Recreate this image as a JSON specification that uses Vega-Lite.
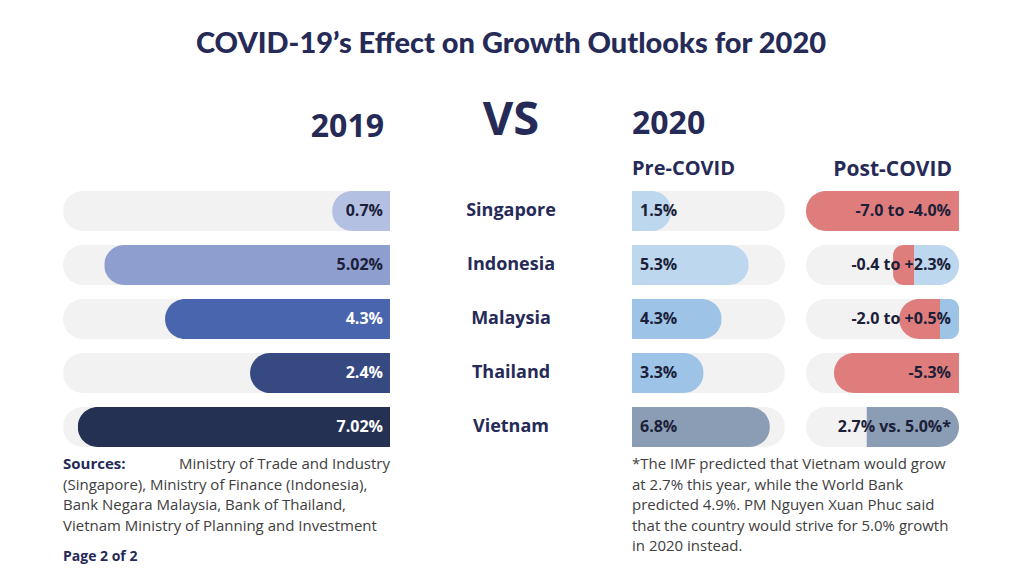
{
  "$schema": "https://vega.github.io/schema/vega-lite/v6.json",
  "background": "white",
  "padding": {"left": 63, "top": 30, "right": 5, "bottom": 5},
  "autosize": {"type": "pad"},
  "config": {
    "view": {"stroke": null},
    "font": "Open Sans",
    "title": {"color": "#262a57", "fontWeight": "bold", "font": "Open Sans"}
  },
  "title": {
    "text": "COVID-19’s Effect on Growth Outlooks for 2020",
    "font": "Lato",
    "fontSize": 29,
    "fontWeight": 900,
    "color": "#262a57",
    "anchor": "middle",
    "offset": 38
  },
  "datasets": {
    "growth": [
      {"country": "Singapore", "g2019": "0.7%", "fill2019": 17.7, "pre": "1.5%", "fillPre": 25.6, "post": "-7.0 to -4.0%"},
      {"country": "Indonesia", "g2019": "5.02%", "fill2019": 87.4, "pre": "5.3%", "fillPre": 76.3, "post": "-0.4 to +2.3%"},
      {"country": "Malaysia", "g2019": "4.3%", "fill2019": 68.8, "pre": "4.3%", "fillPre": 58.6, "post": "-2.0 to +0.5%"},
      {"country": "Thailand", "g2019": "2.4%", "fill2019": 42.8, "pre": "3.3%", "fillPre": 46.8, "post": "-5.3%"},
      {"country": "Vietnam", "g2019": "7.02%", "fill2019": 95.5, "pre": "6.8%", "fillPre": 90.1, "post": "2.7% vs. 5.0%*"}
    ],
    "post": [
      {"country": "Singapore", "part": "decline", "from": 0, "to": 100},
      {"country": "Indonesia", "part": "decline", "from": 56.9, "to": 70.6},
      {"country": "Indonesia", "part": "growth", "from": 70.6, "to": 100},
      {"country": "Malaysia", "part": "decline", "from": 60.9, "to": 87.6},
      {"country": "Malaysia", "part": "growth", "from": 87.6, "to": 100},
      {"country": "Thailand", "part": "decline", "from": 18.3, "to": 100},
      {"country": "Vietnam", "part": "growth", "from": 39.7, "to": 100}
    ],
    "sources": [
      {"line": 1, "lead": "Sources:", "text": "Ministry of Trade and Industry"},
      {"line": 2, "text": "(Singapore), Ministry of Finance (Indonesia),"},
      {"line": 3, "text": "Bank Negara Malaysia, Bank of Thailand,"},
      {"line": 4, "text": "Vietnam Ministry of Planning and Investment"}
    ],
    "footnote": [
      {"line": 1, "text": "*The IMF predicted that Vietnam would grow"},
      {"line": 2, "text": "at 2.7% this year, while the World Bank"},
      {"line": 3, "text": "predicted 4.9%. PM Nguyen Xuan Phuc said"},
      {"line": 4, "text": "that the country would strive for 5.0% growth"},
      {"line": 5, "text": "in 2020 instead."}
    ]
  },
  "spacing": 3,
  "vconcat": [
    {
      "hconcat": [
        {
          "width": 327,
          "height": 270,
          "title": {"text": "2019", "anchor": "end", "fontSize": 32, "offset": 40, "dx": -6},
          "data": {"name": "growth"},
          "encoding": {
            "y": {"field": "country", "type": "nominal", "sort": ["Singapore", "Indonesia", "Malaysia", "Thailand", "Vietnam"], "axis": null, "scale": {"paddingInner": 0.26, "paddingOuter": 0.13}}
          },
          "layer": [
            {
              "mark": {"type": "bar", "color": "#f2f2f2", "cornerRadiusTopLeft": 20, "cornerRadiusBottomLeft": 20},
              "encoding": {"x": {"datum": 100, "type": "quantitative", "scale": {"domain": [0, 100], "reverse": true}, "axis": null}}
            },
            {
              "mark": {"type": "bar", "cornerRadiusTopLeft": 20, "cornerRadiusBottomLeft": 20},
              "encoding": {
                "x": {"field": "fill2019", "type": "quantitative", "scale": {"domain": [0, 100], "reverse": true}, "axis": null},
                "color": {"field": "country", "type": "nominal", "legend": null, "scale": {"domain": ["Singapore", "Indonesia", "Malaysia", "Thailand", "Vietnam"], "range": ["#b4c0e2", "#8e9fcf", "#4865ae", "#364a81", "#243153"]}}
              }
            },
            {
              "mark": {"type": "text", "align": "right", "baseline": "middle", "dx": -7, "fontSize": 16, "fontWeight": "bold"},
              "encoding": {
                "x": {"datum": 0, "type": "quantitative", "scale": {"domain": [0, 100], "reverse": true}, "axis": null},
                "text": {"field": "g2019"},
                "color": {"condition": {"test": "datum.country == 'Singapore' || datum.country == 'Indonesia'", "value": "#1b2038"}, "value": "white"}
              }
            }
          ]
        },
        {
          "width": 200,
          "height": 270,
          "title": {"text": "VS", "anchor": "middle", "fontSize": 47, "offset": 39},
          "data": {"name": "growth"},
          "mark": {"type": "text", "fontSize": 18, "fontWeight": "bold", "color": "#262a57", "baseline": "middle"},
          "encoding": {
            "y": {"field": "country", "type": "nominal", "sort": ["Singapore", "Indonesia", "Malaysia", "Thailand", "Vietnam"], "axis": null, "scale": {"paddingInner": 0.26, "paddingOuter": 0.13}},
            "text": {"field": "country"}
          }
        },
        {
          "width": 153,
          "height": 270,
          "title": {"text": "2020", "subtitle": "Pre-COVID", "anchor": "start", "fontSize": 32, "subtitleFont": "Open Sans", "subtitleFontSize": 20, "subtitleFontWeight": "bold", "subtitleColor": "#262a57", "subtitlePadding": 18, "offset": 4},
          "data": {"name": "growth"},
          "encoding": {
            "y": {"field": "country", "type": "nominal", "sort": ["Singapore", "Indonesia", "Malaysia", "Thailand", "Vietnam"], "axis": null, "scale": {"paddingInner": 0.26, "paddingOuter": 0.13}}
          },
          "layer": [
            {
              "mark": {"type": "bar", "color": "#f2f2f2", "cornerRadiusTopRight": 20, "cornerRadiusBottomRight": 20},
              "encoding": {"x": {"datum": 100, "type": "quantitative", "scale": {"domain": [0, 100]}, "axis": null}}
            },
            {
              "mark": {"type": "bar", "cornerRadiusTopRight": 20, "cornerRadiusBottomRight": 20},
              "encoding": {
                "x": {"field": "fillPre", "type": "quantitative", "scale": {"domain": [0, 100]}, "axis": null},
                "color": {"field": "country", "type": "nominal", "legend": null, "scale": {"domain": ["Singapore", "Indonesia", "Malaysia", "Thailand", "Vietnam"], "range": ["#bdd7ee", "#bdd7ee", "#9dc3e6", "#9dc3e6", "#8a9db5"]}}
              }
            },
            {
              "mark": {"type": "text", "align": "left", "baseline": "middle", "dx": 8, "fontSize": 16, "fontWeight": "bold", "color": "#1b2038"},
              "encoding": {
                "x": {"datum": 0, "type": "quantitative", "scale": {"domain": [0, 100]}, "axis": null},
                "text": {"field": "pre"}
              }
            }
          ]
        },
        {
          "width": 153,
          "height": 270,
          "title": {"text": "Post-COVID", "anchor": "end", "fontSize": 21, "offset": 4, "dx": -7},
          "encoding": {
            "y": {"field": "country", "type": "nominal", "sort": ["Singapore", "Indonesia", "Malaysia", "Thailand", "Vietnam"], "axis": null, "scale": {"paddingInner": 0.26, "paddingOuter": 0.13}}
          },
          "layer": [
            {
              "data": {"name": "growth"},
              "mark": {"type": "bar", "color": "#f2f2f2", "cornerRadius": 20},
              "encoding": {"x": {"datum": 100, "type": "quantitative", "scale": {"domain": [0, 100]}, "axis": null}}
            },
            {
              "data": {"name": "post"},
              "transform": [{"filter": "datum.part == 'decline'"}],
              "mark": {"type": "bar", "color": "#df7d7d", "cornerRadiusTopLeft": 20, "cornerRadiusBottomLeft": 20},
              "encoding": {
                "x": {"field": "from", "type": "quantitative", "scale": {"domain": [0, 100]}, "axis": null},
                "x2": {"field": "to"}
              }
            },
            {
              "data": {"name": "post"},
              "transform": [{"filter": "datum.part == 'growth'"}],
              "mark": {"type": "bar", "cornerRadiusTopRight": 20, "cornerRadiusBottomRight": 20},
              "encoding": {
                "x": {"field": "from", "type": "quantitative", "scale": {"domain": [0, 100]}, "axis": null},
                "x2": {"field": "to"},
                "color": {"field": "country", "type": "nominal", "legend": null, "scale": {"domain": ["Indonesia", "Malaysia", "Vietnam"], "range": ["#bdd7ee", "#9dc3e6", "#8a9db5"]}}
              }
            },
            {
              "data": {"name": "growth"},
              "mark": {"type": "text", "align": "right", "baseline": "middle", "dx": -8, "fontSize": 16, "fontWeight": "bold", "color": "#1b2038"},
              "encoding": {
                "x": {"datum": 100, "type": "quantitative", "scale": {"domain": [0, 100]}, "axis": null},
                "text": {"field": "post"}
              }
            }
          ]
        }
      ],
      "spacing": 21,
      "bounds": "flush",
      "resolve": {"scale": {"color": "independent"}}
    },
    {
      "hconcat": [
        {
          "width": 327,
          "height": 62,
          "data": {"name": "sources"},
          "title": {"text": "Page 2 of 2", "orient": "bottom", "anchor": "start", "fontSize": 14, "offset": 16},
          "encoding": {
            "y": {"field": "line", "type": "ordinal", "scale": {"type": "point", "padding": 0}, "axis": null}
          },
          "layer": [
            {
              "transform": [{"filter": "datum.line > 1"}],
              "mark": {"type": "text", "align": "left", "baseline": "middle", "fontSize": 15, "color": "#404040"},
              "encoding": {"x": {"datum": 0, "type": "quantitative", "scale": {"domain": [0, 1]}, "axis": null}, "text": {"field": "text"}}
            },
            {
              "transform": [{"filter": "datum.line == 1"}],
              "mark": {"type": "text", "align": "right", "baseline": "middle", "fontSize": 15, "color": "#404040"},
              "encoding": {"x": {"datum": 1, "type": "quantitative", "scale": {"domain": [0, 1]}, "axis": null}, "text": {"field": "text"}}
            },
            {
              "transform": [{"filter": "isValid(datum.lead)"}],
              "mark": {"type": "text", "align": "left", "baseline": "middle", "fontSize": 15, "fontWeight": "bold", "color": "#262a57"},
              "encoding": {"x": {"datum": 0, "type": "quantitative", "scale": {"domain": [0, 1]}, "axis": null}, "text": {"field": "lead"}}
            }
          ]
        },
        {
          "width": 327,
          "height": 82,
          "data": {"name": "footnote"},
          "mark": {"type": "text", "align": "left", "baseline": "middle", "fontSize": 15, "color": "#404040"},
          "encoding": {
            "y": {"field": "line", "type": "ordinal", "scale": {"type": "point", "padding": 0}, "axis": null},
            "x": {"datum": 0, "type": "quantitative", "scale": {"domain": [0, 1]}, "axis": null},
            "text": {"field": "text"}
          }
        }
      ],
      "spacing": 242
    }
  ]
}
